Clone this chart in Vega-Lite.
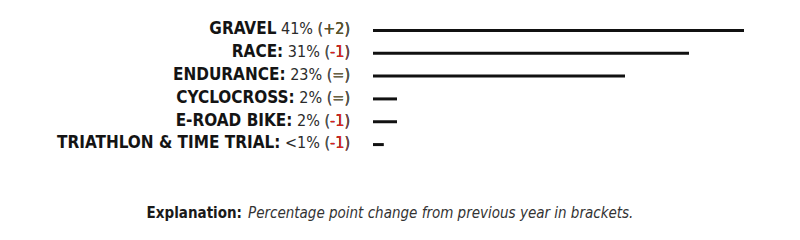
{
  "$schema": "https://vega.github.io/schema/vega-lite/v6.json",
  "width": 427,
  "height": 137,
  "autosize": {"type": "none"},
  "padding": {"left": 373, "top": 19, "right": 0, "bottom": 84},
  "background": "white",
  "config": {"view": {"stroke": null}, "text": {"font": "DejaVu Sans Condensed"}},
  "datasets": {
    "segments": [
      {"segment": "Gravel", "heading": "GRAVEL", "share": 41, "share_label": "41%", "change": "+2", "trend": "up"},
      {"segment": "Race", "heading": "RACE:", "share": 31, "share_label": "31%", "change": "-1", "trend": "down"},
      {"segment": "Endurance", "heading": "ENDURANCE:", "share": 23, "share_label": "23%", "change": "=", "trend": "flat"},
      {"segment": "Cyclocross", "heading": "CYCLOCROSS:", "share": 2, "share_label": "2%", "change": "=", "trend": "flat"},
      {"segment": "E-Road Bike", "heading": "E-ROAD BIKE:", "share": 2, "share_label": "2%", "change": "-1", "trend": "down"},
      {"segment": "Triathlon & Time Trial", "heading": "TRIATHLON & TIME TRIAL:", "share": 0.9, "share_label": "<1%", "change": "-1", "trend": "down"}
    ],
    "notes": [
      {"lead": "Explanation:", "note": "Percentage point change from previous year in brackets."}
    ]
  },
  "layer": [
    {
      "data": {"name": "segments"},
      "transform": [
        {"calculate": "datum.share_label + ' (' + datum.change + ')'", "as": "suffix"},
        {"calculate": "'(' + datum.change + ')'", "as": "bracketed"},
        {"calculate": "datum.change + ')'", "as": "tail"}
      ],
      "encoding": {
        "y": {"field": "segment", "type": "nominal", "sort": null, "axis": null,
              "scale": {"paddingInner": 0, "paddingOuter": 0}}
      },
      "layer": [
        {
          "mark": {"type": "bar", "size": 3, "color": "#111111"},
          "encoding": {
            "x": {"field": "share", "type": "quantitative", "axis": null,
                  "scale": {"domain": [0, 2, 23, 31, 41], "range": [0, 24, 252, 316, 371], "nice": false, "zero": false}}
          }
        },
        {
          "mark": {"type": "text", "align": "right", "baseline": "alphabetic", "dx": -23, "dy": 3.8,
                   "fontSize": 16, "color": "#2b2b2b"},
          "encoding": {"x": {"datum": 0, "type": "quantitative"}, "text": {"field": "suffix"}}
        },
        {
          "mark": {"type": "text", "align": "right", "baseline": "alphabetic", "dx": -23, "dy": 3.8,
                   "fontSize": 16, "color": "#555555"},
          "encoding": {"x": {"datum": 0, "type": "quantitative"}, "text": {"field": "bracketed"}}
        },
        {
          "mark": {"type": "text", "align": "right", "baseline": "alphabetic", "dx": -23, "dy": 3.8,
                   "fontSize": 16},
          "encoding": {
            "x": {"datum": 0, "type": "quantitative"},
            "text": {"field": "tail"},
            "color": {"field": "trend", "type": "nominal", "legend": null,
                      "scale": {"domain": ["up", "flat", "down"], "range": ["#5c5424", "#6b6340", "#e0201b"]}}
          }
        },
        {
          "mark": {"type": "text", "align": "right", "baseline": "alphabetic", "dx": -23, "dy": 3.8,
                   "fontSize": 16, "color": "#555555", "text": ")"},
          "encoding": {"x": {"datum": 0, "type": "quantitative"}}
        },
        {
          "mark": {
            "type": "text", "align": "right", "baseline": "alphabetic", "dy": 3.8,
            "fontSize": 17, "fontWeight": "bold", "color": "#141414",
            "dx": {"expr": "-(23 + 16*(0.5727*(length(datum.suffix)-length(replace(datum.suffix,regexp('[0-9]','g'),''))) + 0.855*(length(datum.suffix)-length(replace(datum.suffix,regexp('%','g'),''))) + 0.2861*(1+length(datum.suffix)-length(replace(datum.suffix,regexp(' ','g'),''))) + 0.3511*(length(datum.suffix)-length(replace(datum.suffix,regexp('[()]','g'),''))) + 0.7539*(length(datum.suffix)-length(replace(datum.suffix,regexp('[+=<]','g'),''))) + 0.3247*(length(datum.suffix)-length(replace(datum.suffix,regexp('-','g'),'')))))"}
          },
          "encoding": {"x": {"datum": 0, "type": "quantitative"}, "text": {"field": "heading"}}
        }
      ]
    },
    {
      "data": {"name": "notes"},
      "layer": [
        {
          "mark": {"type": "text", "align": "right", "baseline": "alphabetic",
                   "fontSize": 15, "fontWeight": "bold", "color": "#1a1a1a"},
          "encoding": {"x": {"value": -131}, "y": {"value": 199}, "text": {"field": "lead"}}
        },
        {
          "mark": {"type": "text", "align": "left", "baseline": "alphabetic",
                   "fontSize": 15, "fontStyle": "italic", "color": "#333333"},
          "encoding": {"x": {"value": -125}, "y": {"value": 199}, "text": {"field": "note"}}
        }
      ]
    }
  ]
}
